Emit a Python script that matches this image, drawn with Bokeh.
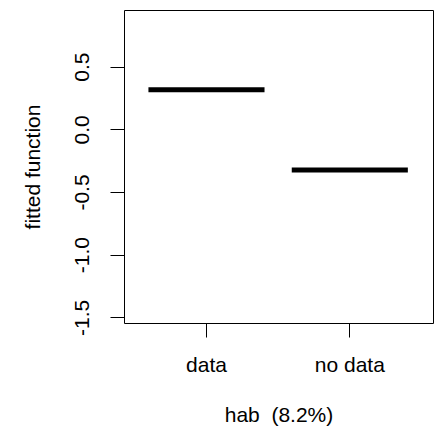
from bokeh.plotting import figure
from bokeh.models import Range1d, FixedTicker, ColumnDataSource
from bokeh.embed import file_html
from bokeh.resources import INLINE

# data
categories = ["data", "no data"]
fitted = [0.32, -0.32]
y_ticks = [-1.5, -1.0, -0.5, 0.0, 0.5]
y_tick_labels = ["-1.5", "-1.0", "-0.5", "0.0", "0.5"]
x_title = "hab\u00a0 (8.2%)"
y_title = "fitted function"

xpos = [i + 1 for i in range(len(categories))]
half = 0.405
src = ColumnDataSource(dict(
    x0=[x - half for x in xpos],
    x1=[x + half for x in xpos],
    y=fitted,
))

p = figure(width=437, height=431, output_backend="svg", toolbar_location=None,
           x_range=Range1d(0.428, 2.584), y_range=Range1d(-1.545, 0.952),
           min_border_left=124, min_border_right=4, min_border_top=10,
           min_border_bottom=108)
p.background_fill_color = "white"
p.border_fill_color = "white"
p.outline_line_color = "black"
p.outline_line_width = 1
p.grid.visible = False

p.segment(x0="x0", x1="x1", y0="y", y1="y", source=src,
          line_color="black", line_width=5, line_cap="butt")

FONT = "Liberation Sans"
FS = "21px"

xa = p.xaxis[0]
xa.ticker = FixedTicker(ticks=xpos)
xa.major_label_overrides = {x: c for x, c in zip(xpos, categories)}
xa.axis_label = x_title
ya = p.yaxis[0]
ya.ticker = FixedTicker(ticks=y_ticks)
ya.major_label_overrides = {t: l for t, l in zip(y_ticks, y_tick_labels)}
ya.axis_label = y_title
ya.major_label_orientation = "parallel"

for ax in (xa, ya):
    ax.axis_line_color = None
    ax.major_tick_out = 14
    ax.major_tick_in = 0
    ax.major_tick_line_color = "black"
    ax.major_tick_line_width = 1
    ax.minor_tick_line_color = None
    ax.major_label_text_font = FONT
    ax.major_label_text_font_size = FS
    ax.major_label_text_color = "black"
    ax.axis_label_text_font = FONT
    ax.axis_label_text_font_size = FS
    ax.axis_label_text_font_style = "normal"
    ax.axis_label_text_color = "black"

xa.major_label_standoff = 15
xa.axis_label_standoff = 24
ya.major_label_standoff = 21
ya.axis_label_standoff = 29

open("out.html", "w").write(file_html(p, INLINE))
